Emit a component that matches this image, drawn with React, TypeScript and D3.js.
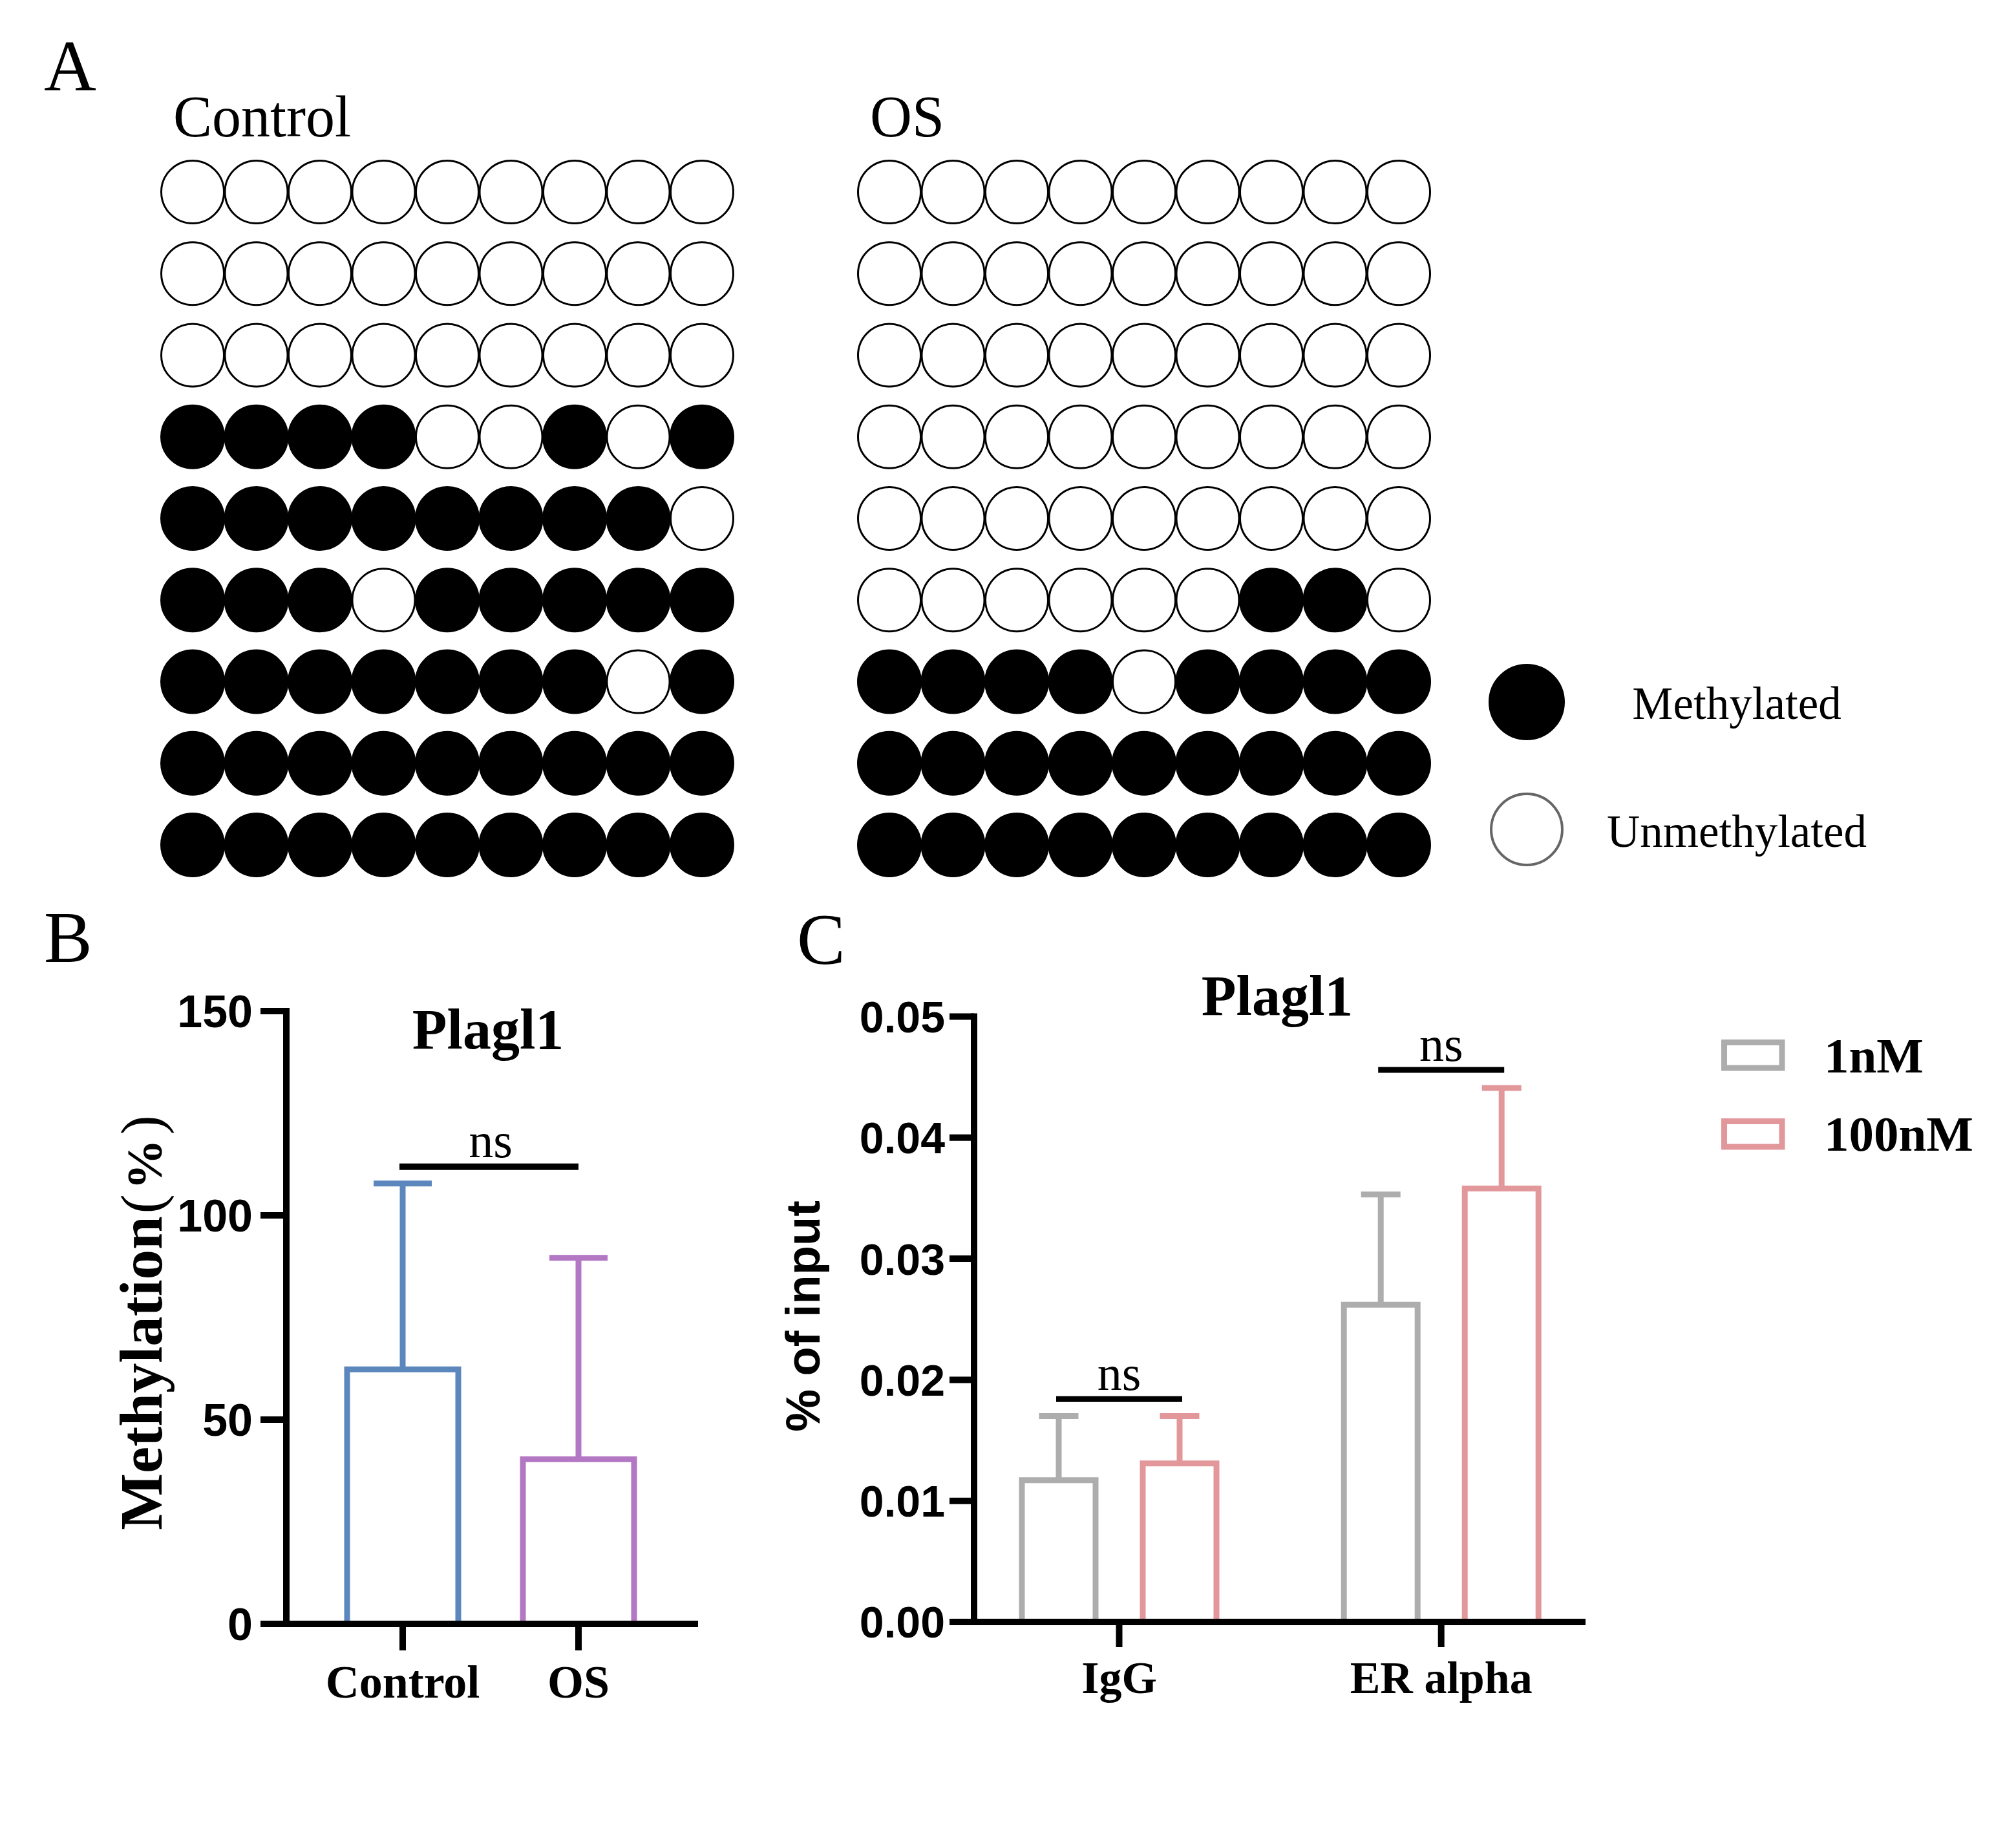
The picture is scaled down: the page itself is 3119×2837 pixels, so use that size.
import * as d3 from 'd3'

// ---- panel A: bisulfite sequencing grids (1 = methylated) ----
const controlRows = [
  '000000000',
  '000000000',
  '000000000',
  '111100101',
  '111111110',
  '111011111',
  '111111101',
  '111111111',
  '111111111',
]
const osRows = [
  '000000000',
  '000000000',
  '000000000',
  '000000000',
  '000000000',
  '000000110',
  '111101111',
  '111111111',
  '111111111',
]
const legendA = ['Methylated', 'Unmethylated']

// ---- panel B ----
const groupsB = ['Control', 'OS']
const meansB = [62.3, 40.3]
const sdB = [45.5, 49.3]
const colorsB = ['#5B87BD', '#B377C4']
const ticksB = [0, 50, 100, 150]
const bracketB = { from: 'Control', to: 'OS', y: 111.9, label: 'ns' }

// ---- panel C ----
const groupsC = ['IgG', 'ER alpha']
const seriesC = ['1nM', '100nM']
const means1nM = [0.0117, 0.0262]
const sd1nM = [0.0053, 0.0091]
const means100nM = [0.0131, 0.0358]
const sd100nM = [0.0039, 0.0083]
const colorsC = ['#ADADAD', '#E2979B']
const ticksC = [0, 0.01, 0.02, 0.03, 0.04, 0.05]
const bracketsC = [
  { group: 'IgG', y: 0.0184, label: 'ns' },
  { group: 'ER alpha', y: 0.0456, label: 'ns' },
]

const W = 3119
const H = 2837
const serif = '"Liberation Serif", "Times New Roman", serif'
const sans = '"Liberation Sans", Arial, sans-serif'

function Grid({ rows, x0, title }: { rows: string[]; x0: number; title: string }) {
  const col = d3.scalePoint<number>().domain(d3.range(9)).range([x0, x0 + 788])
  const row = d3.scalePoint<number>().domain(d3.range(rows.length)).range([297, 1307])
  return (
    <g>
      <text x={x0 - 30} y={211} fontFamily={serif} fontSize={90}>
        {title}
      </text>
      {rows.map((r, j) =>
        r.split('').map((c, i) => (
          <circle
            key={`${j}-${i}`}
            cx={col(i)}
            cy={row(j)}
            r={48.5}
            fill={c === '1' ? '#000' : '#fff'}
            stroke="#000"
            strokeWidth={3}
          />
        )),
      )}
    </g>
  )
}

function openBar(x: number, w: number, y0: number, y1: number) {
  return `M${x - w / 2},${y0} V${y1} H${x + w / 2} V${y0}`
}

function PanelB() {
  const y = d3.scaleLinear().domain([0, 150]).range([2512, 1564])
  const x = d3.scalePoint<string>().domain(groupsB).range([623, 895])
  const axisX = 443
  const barW = 172
  return (
    <g>
      <text x={68} y={1488} fontFamily={serif} fontSize={112}>B</text>
      <text x={755} y={1622} fontFamily={serif} fontWeight="bold" fontSize={88} textAnchor="middle">
        Plagl1
      </text>
      <text
        transform={`translate(250, 2046) rotate(-90)`}
        fontFamily={serif}
        fontWeight="bold"
        fontSize={93}
        textAnchor="middle"
      >
        Methylation
        <tspan fontWeight="normal" fontSize={90} dx={4}>(</tspan>
        <tspan fontSize={78} dx={7}>%</tspan>
        <tspan fontWeight="normal" fontSize={90} dx={7}>)</tspan>
      </text>
      {groupsB.map((g, i) => {
        const cx = x(g) as number
        const top = y(meansB[i])
        const et = y(meansB[i] + sdB[i])
        return (
          <g key={g} stroke={colorsB[i]} strokeWidth={9} fill="none">
            <path d={openBar(cx, barW, y(0), top)} />
            <line x1={cx} x2={cx} y1={top} y2={et} />
            <line x1={cx - 45} x2={cx + 45} y1={et} y2={et} />
          </g>
        )
      })}
      {/* axes */}
      <line x1={axisX} x2={axisX} y1={y(150) - 5} y2={y(0) + 5} stroke="#000" strokeWidth={10} />
      <line x1={403} x2={1080} y1={y(0)} y2={y(0)} stroke="#000" strokeWidth={10} />
      {ticksB.map((t) => (
        <g key={t}>
          <line x1={403} x2={axisX} y1={y(t)} y2={y(t)} stroke="#000" strokeWidth={10} />
          <text x={391} y={y(t)} dy="0.36em" textAnchor="end" fontFamily={sans} fontWeight="bold" fontSize={70}>
            {t}
          </text>
        </g>
      ))}
      {groupsB.map((g) => (
        <g key={g}>
          <line x1={x(g)} x2={x(g)} y1={y(0)} y2={2553} stroke="#000" strokeWidth={10} />
          <text x={x(g)} y={2626} textAnchor="middle" fontFamily={serif} fontWeight="bold" fontSize={72}>
            {g}
          </text>
        </g>
      ))}
      <line
        x1={(x(bracketB.from) as number) - 5}
        x2={x(bracketB.to)}
        y1={y(bracketB.y)}
        y2={y(bracketB.y)}
        stroke="#000"
        strokeWidth={10}
      />
      <text
        x={((x(bracketB.from) as number) + (x(bracketB.to) as number)) / 2}
        y={y(bracketB.y) - 15}
        textAnchor="middle"
        fontFamily={serif}
        fontSize={76}
      >
        {bracketB.label}
      </text>
    </g>
  )
}

function PanelC() {
  const y = d3.scaleLinear().domain([0, 0.05]).range([2509, 1572.5])
  const x = d3.scalePoint<string>().domain(groupsC).range([1731.5, 2229.7])
  const inner = d3.scalePoint<string>().domain(seriesC).range([-93.5, 93.5])
  const axisX = 1507
  const barW = 114
  const means = [means1nM, means100nM]
  const sds = [sd1nM, sd100nM]
  return (
    <g>
      <text x={1233} y={1491} fontFamily={serif} fontSize={112}>C</text>
      <text x={1976} y={1570} fontFamily={serif} fontWeight="bold" fontSize={88} textAnchor="middle">
        Plagl1
      </text>
      <text
        transform={`translate(1268, 2036) rotate(-90)`}
        fontFamily={sans}
        fontWeight="bold"
        fontSize={74}
        textAnchor="middle"
      >
        % of input
      </text>
      {groupsC.map((g, gi) =>
        seriesC.map((s, si) => {
          const cx = (x(g) as number) + (inner(s) as number)
          const top = y(means[si][gi])
          const et = y(means[si][gi] + sds[si][gi])
          return (
            <g key={`${g}-${s}`} stroke={colorsC[si]} strokeWidth={9} fill="none">
              <path d={openBar(cx, barW, y(0), top)} />
              <line x1={cx} x2={cx} y1={top} y2={et} />
              <line x1={cx - 30.5} x2={cx + 30.5} y1={et} y2={et} />
            </g>
          )
        }),
      )}
      <line x1={axisX} x2={axisX} y1={y(0.05) - 5} y2={y(0) + 5} stroke="#000" strokeWidth={10} />
      <line x1={1471} x2={2453} y1={y(0)} y2={y(0)} stroke="#000" strokeWidth={10} />
      {ticksC.map((t) => (
        <g key={t}>
          <line x1={1469} x2={axisX} y1={y(t)} y2={y(t)} stroke="#000" strokeWidth={10} />
          <text x={1462} y={y(t)} dy="0.36em" textAnchor="end" fontFamily={sans} fontWeight="bold" fontSize={68}>
            {d3.format('.2f')(t)}
          </text>
        </g>
      ))}
      {groupsC.map((g) => (
        <g key={g}>
          <line x1={x(g)} x2={x(g)} y1={y(0)} y2={2548} stroke="#000" strokeWidth={10} />
          <text x={x(g)} y={2619} textAnchor="middle" fontFamily={serif} fontWeight="bold" fontSize={70}>
            {g}
          </text>
        </g>
      ))}
      {bracketsC.map((b) => {
        const x1 = (x(b.group) as number) + (inner(seriesC[0]) as number) - 4
        const x2 = (x(b.group) as number) + (inner(seriesC[1]) as number) + 4
        return (
          <g key={b.group}>
            <line x1={x1} x2={x2} y1={y(b.y)} y2={y(b.y)} stroke="#000" strokeWidth={9} />
            <text x={(x1 + x2) / 2} y={y(b.y) - 14} textAnchor="middle" fontFamily={serif} fontSize={76}>
              {b.label}
            </text>
          </g>
        )
      })}
      {/* legend */}
      {seriesC.map((s, i) => (
        <g key={s}>
          <rect
            x={2667.5}
            y={1612.5 + i * 122}
            width={89.5}
            height={39.5}
            fill="none"
            stroke={colorsC[i]}
            strokeWidth={9}
          />
          <text x={2822} y={1659 + i * 121} fontFamily={serif} fontWeight="bold" fontSize={77}>
            {s}
          </text>
        </g>
      ))}
    </g>
  )
}

export default function App() {
  return (
    <svg
      width={W}
      height={H}
      viewBox={`0 0 ${W} ${H}`}
      style={{ position: 'absolute', left: 0, top: 0, background: '#fff' }}
    >
      <rect width={W} height={H} fill="#fff" />
      <text x={68} y={140} fontFamily={serif} fontSize={112}>A</text>
      <Grid rows={controlRows} x0={298} title="Control" />
      <Grid rows={osRows} x0={1376} title="OS" />
      {legendA.map((l, i) => (
        <g key={l}>
          <circle
            cx={2362}
            cy={1086 + i * 197}
            r={i === 0 ? 57 : 55}
            fill={i === 0 ? '#000' : '#fff'}
            stroke={i === 0 ? '#000' : '#666'}
            strokeWidth={4}
          />
          <text x={2687} y={1112 + i * 198} textAnchor="middle" fontFamily={serif} fontSize={71}>
            {l}
          </text>
        </g>
      ))}
      <PanelB />
      <PanelC />
    </svg>
  )
}
